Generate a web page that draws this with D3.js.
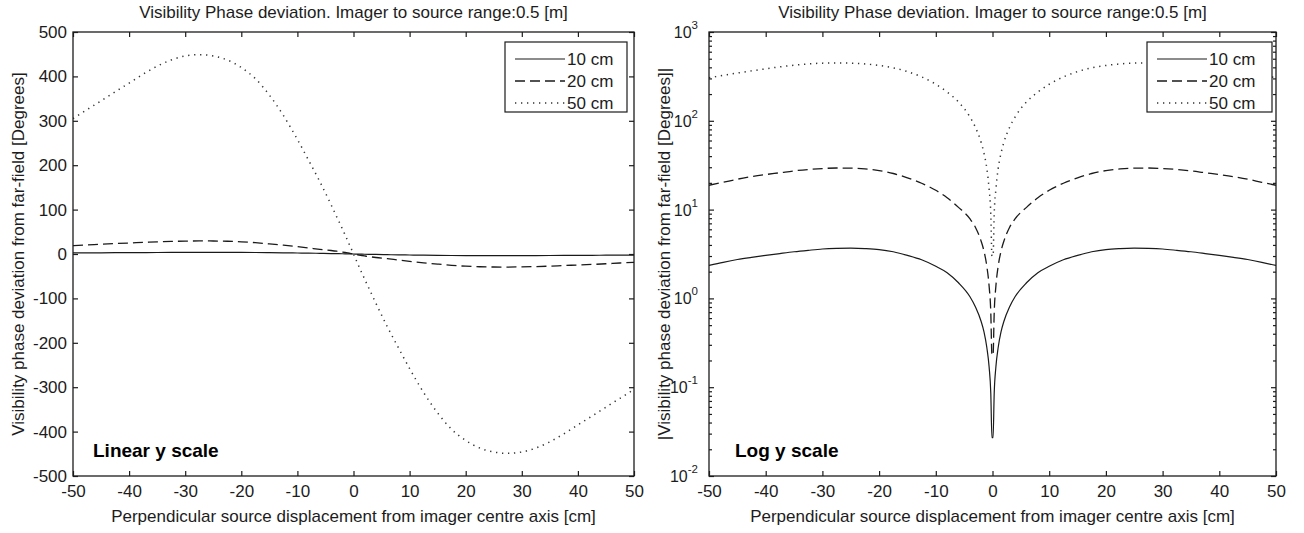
<!DOCTYPE html>
<html>
<head>
<meta charset="utf-8">
<title>Visibility phase deviation</title>
<script src="https://cdn.jsdelivr.net/npm/d3@7/dist/d3.min.js"></script>
<style>
  body { margin: 0; background: #fff; }
  svg { display: block; font-family: "Liberation Sans", Arial, sans-serif; }
</style>
</head>
<body>
<svg id="chart" width="1304" height="533"></svg>
<script>
// source displacement [cm]
const displacement = [-50, -47.5, -45, -42.5, -40, -37.5, -35, -32.5, -30, -27.5, -25, -22.5, -20, -17.5, -15, -12.5, -10, -8, -6, -4, -3, -2, -1.5, -1, -0.6, -0.3, -0.1,
  0.1, 0.3, 0.6, 1, 1.5, 2, 3, 4, 6, 8, 10, 12.5, 15, 17.5, 20, 22.5, 25, 27.5, 30, 32.5, 35, 37.5, 40, 42.5, 45, 47.5, 50];

// phase deviation [degrees] for each baseline
const phase10 = [2.35, 2.55, 2.74, 2.9, 3.05, 3.2, 3.35, 3.48, 3.6, 3.66, 3.68, 3.64, 3.55, 3.35, 3.05, 2.72, 2.3, 1.95, 1.5, 1.05, 0.8, 0.55, 0.42, 0.28, 0.17, 0.085, 0.027,
  -0.027, -0.085, -0.17, -0.28, -0.42, -0.55, -0.8, -1.05, -1.5, -1.95, -2.3, -2.72, -3.05, -3.35, -3.55, -3.64, -3.68, -3.66, -3.6, -3.48, -3.35, -3.2, -3.05, -2.9, -2.74, -2.55, -2.35];
const phase20 = [18.8, 20.3, 22, 23.5, 24.8, 26, 27.3, 28.3, 29, 29.4, 29.3, 28.7, 27.5, 25.5, 22.8, 19.8, 16.5, 13.6, 10.6, 7.9, 6.3, 4.4, 3.4, 2.3, 1.38, 0.69, 0.23,
  -0.23, -0.69, -1.38, -2.3, -3.4, -4.4, -6.3, -7.9, -10.6, -13.6, -16.5, -19.8, -22.8, -25.5, -27.5, -28.7, -29.3, -29.4, -29, -28.3, -27.3, -26, -24.8, -23.5, -22, -20.3, -18.8];
const phase50 = [305, 325, 345, 365, 385, 405, 423, 437, 446, 449, 446, 437, 420, 395, 358, 312, 258, 211, 163, 111, 84, 57, 43, 29, 17, 9, 3,
  -3, -9, -17, -29, -43, -57, -84, -111, -163, -211, -258, -312, -358, -395, -420, -437, -446, -449, -446, -437, -423, -405, -385, -365, -345, -325, -305];

const seriesLabels = ["10 cm", "20 cm", "50 cm"];

const xTicks = [-50, -40, -30, -20, -10, 0, 10, 20, 30, 40, 50];
const linTicks = [-500, -400, -300, -200, -100, 0, 100, 200, 300, 400, 500];
const logExponents = [-2, -1, 0, 1, 2, 3];

const titleText = "Visibility Phase deviation. Imager to source range:0.5 [m]";
const xTitle = "Perpendicular source displacement from imager centre axis [cm]";

const ink = "#1c1c1c";
const fs = 17;
const styles = [
  { dash: null, width: 1.2, color: "#1a1a1a" },
  { dash: "10,5", width: 1.3, color: "#1a1a1a" },
  { dash: "1.3,4.7", width: 1.5, color: "#333" }
];
const allSeries = [phase10, phase20, phase50];

const svg = d3.select("#chart");

function drawPanel(cfg) {
  const g = svg.append("g");
  const x = d3.scaleLinear().domain([-50, 50]).range([cfg.left, cfg.right]);
  const y = cfg.log
    ? d3.scaleLog().domain([1e-2, 1e3]).range([cfg.bottom, cfg.top])
    : d3.scaleLinear().domain([-500, 500]).range([cfg.bottom, cfg.top]);

  const clipId = "clip" + cfg.id;
  svg.append("clipPath").attr("id", clipId).append("rect")
    .attr("x", cfg.left).attr("y", cfg.top)
    .attr("width", cfg.right - cfg.left).attr("height", cfg.bottom - cfg.top);

  // curves
  const line = d3.line()
    .x((d, i) => x(displacement[i]))
    .y(d => y(cfg.log ? Math.abs(d) : d))
    .curve(d3.curveMonotoneX);

  allSeries.forEach((vals, k) => {
    g.append("path")
      .attr("clip-path", `url(#${clipId})`)
      .attr("d", line(vals))
      .attr("fill", "none")
      .attr("stroke", styles[k].color)
      .attr("stroke-width", styles[k].width)
      .attr("stroke-dasharray", styles[k].dash);
  });

  // ticks, pointing inward on all four sides
  g.append("g").attr("transform", `translate(0,${cfg.bottom})`)
    .call(d3.axisBottom(x).tickValues(xTicks).tickSizeInner(-5).tickSizeOuter(0).tickPadding(9)
      .tickFormat(d => String(d)));
  g.append("g").attr("transform", `translate(0,${cfg.top})`)
    .call(d3.axisTop(x).tickValues(xTicks).tickSizeInner(-5).tickSizeOuter(0).tickFormat(""));

  if (cfg.log) {
    const minor = y.ticks().filter(v => Math.abs(Math.log10(v) - Math.round(Math.log10(v))) > 1e-6);
    const major = logExponents.map(e => Math.pow(10, e));
    [[d3.axisLeft, cfg.left], [d3.axisRight, cfg.right]].forEach(([ax, pos]) => {
      g.append("g").attr("transform", `translate(${pos},0)`)
        .call(ax(y).tickValues(minor).tickSizeInner(-3).tickSizeOuter(0).tickFormat(""));
      g.append("g").attr("transform", `translate(${pos},0)`)
        .call(ax(y).tickValues(major).tickSizeInner(-5).tickSizeOuter(0).tickFormat(""));
    });
    // 10^n labels
    logExponents.forEach(e => {
      const t = g.append("text")
        .attr("x", cfg.left - 11).attr("y", y(Math.pow(10, e)) + 6)
        .attr("text-anchor", "end").attr("font-size", 16).attr("fill", ink);
      t.append("tspan").text("10");
      t.append("tspan").attr("dy", -9).attr("font-size", 11.5).text(String(e));
    });
  } else {
    g.append("g").attr("transform", `translate(${cfg.left},0)`)
      .call(d3.axisLeft(y).tickValues(linTicks).tickSizeInner(-5).tickSizeOuter(0).tickPadding(6)
        .tickFormat(d => String(d)));
    g.append("g").attr("transform", `translate(${cfg.right},0)`)
      .call(d3.axisRight(y).tickValues(linTicks).tickSizeInner(-5).tickSizeOuter(0).tickFormat(""));
  }

  g.selectAll(".domain").remove();
  g.selectAll(".tick line").attr("stroke", ink).attr("stroke-width", 1.2);
  g.selectAll(".tick text").attr("font-size", fs).attr("fill", ink)
    .attr("font-family", '"Liberation Sans", Arial, sans-serif');

  // box
  g.append("rect")
    .attr("x", cfg.left).attr("y", cfg.top)
    .attr("width", cfg.right - cfg.left).attr("height", cfg.bottom - cfg.top)
    .attr("fill", "none").attr("stroke", ink).attr("stroke-width", 1.3);

  // titles
  const cx = (cfg.left + cfg.right) / 2;
  g.append("text").attr("x", cx).attr("y", 18).attr("text-anchor", "middle")
    .attr("font-size", fs).attr("fill", ink).text(titleText);
  g.append("text").attr("x", cx).attr("y", 522).attr("text-anchor", "middle")
    .attr("font-size", fs).attr("fill", ink).text(xTitle);
  g.append("text")
    .attr("transform", `translate(${cfg.yTitleX},${(cfg.top + cfg.bottom) / 2}) rotate(-90)`)
    .attr("text-anchor", "middle").attr("font-size", fs).attr("fill", ink).text(cfg.yTitle);

  // bold note
  g.append("text").attr("x", cfg.noteX).attr("y", 457)
    .attr("font-size", 19).attr("font-weight", "bold").attr("fill", "#000").text(cfg.note);

  // legend
  const lg = g.append("g");
  lg.append("rect")
    .attr("x", cfg.legendX).attr("y", 42).attr("width", cfg.legendW).attr("height", 70)
    .attr("fill", "#fff").attr("stroke", ink).attr("stroke-width", 1.2);
  seriesLabels.forEach((lab, k) => {
    const ly = 59 + k * 22;
    lg.append("line")
      .attr("x1", cfg.legendX + 10).attr("x2", cfg.legendX + 60)
      .attr("y1", ly).attr("y2", ly)
      .attr("stroke", styles[k].color).attr("stroke-width", styles[k].width)
      .attr("stroke-dasharray", styles[k].dash);
    lg.append("text").attr("x", cfg.legendX + 62).attr("y", ly + 6)
      .attr("font-size", fs).attr("fill", ink).text(lab);
  });
}

drawPanel({
  id: "lin", log: false, left: 73, right: 634, top: 32, bottom: 476,
  yTitle: "Visibility phase deviation from far-field [Degrees]", yTitleX: 24,
  note: "Linear y scale", noteX: 93, legendX: 505, legendW: 122
});
drawPanel({
  id: "log", log: true, left: 709, right: 1276, top: 32, bottom: 476,
  yTitle: "|Visibility phase deviation from far-field [Degrees]|", yTitleX: 670,
  note: "Log y scale", noteX: 735, legendX: 1147, legendW: 125
});
</script>
</body>
</html>
